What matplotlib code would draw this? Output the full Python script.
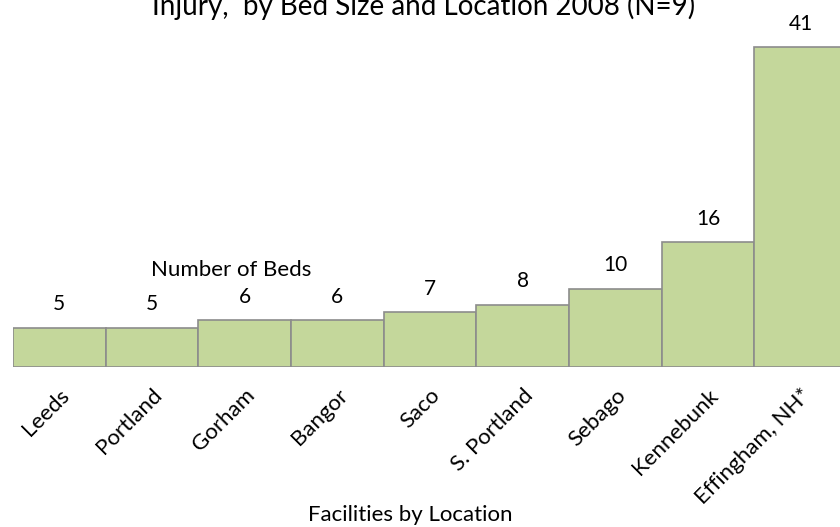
import matplotlib
matplotlib.use("Agg")
import matplotlib.pyplot as plt

plt.rcParams["font.family"] = ["Lato", "DejaVu Sans"]

facilities = ["Leeds", "Portland", "Gorham", "Bangor", "Saco",
              "S. Portland", "Sebago", "Kennebunk", "Effingham, NH*"]
beds = [5, 5, 6, 6, 7, 8, 10, 16, 41]

title = "Injury,  by Bed Size and Location 2008 (N=9)"

fig = plt.figure(figsize=(8.4, 5.27), dpi=100)
ax = fig.add_axes([13 / 840, 160 / 527, 834 / 840, 351 / 527])

x = range(len(beds))
ax.bar(x, beds, width=1.0, color="#C4D79B", edgecolor="#8C8C8C", linewidth=1.2)
for xi, v in zip(x, beds):
    ax.annotate(str(v), (xi, v), xytext=(0, 17), textcoords="offset points",
                ha="center", va="center", fontsize=15, color="black")

ax.set_xlim(-0.5, len(beds) - 0.5)
ax.set_ylim(0, 45)
ax.set_yticks([])
ax.set_xticks(list(x))
ax.set_xticklabels(facilities, rotation=45, ha="right", rotation_mode="anchor",
                   fontsize=16)
ax.tick_params(axis="x", length=0, pad=13)
for s in ax.spines.values():
    s.set_visible(False)

ax.text(1.85, 12.4, "Number of Beds", ha="center", va="center", fontsize=16)
fig.text(410 / 840, 12 / 527, "Facilities by Location", ha="center", va="center",
         fontsize=16)
fig.text(424 / 840, 1 - 6 / 527, title, ha="center", va="center", fontsize=20)

fig.savefig("out.png", dpi=100)
